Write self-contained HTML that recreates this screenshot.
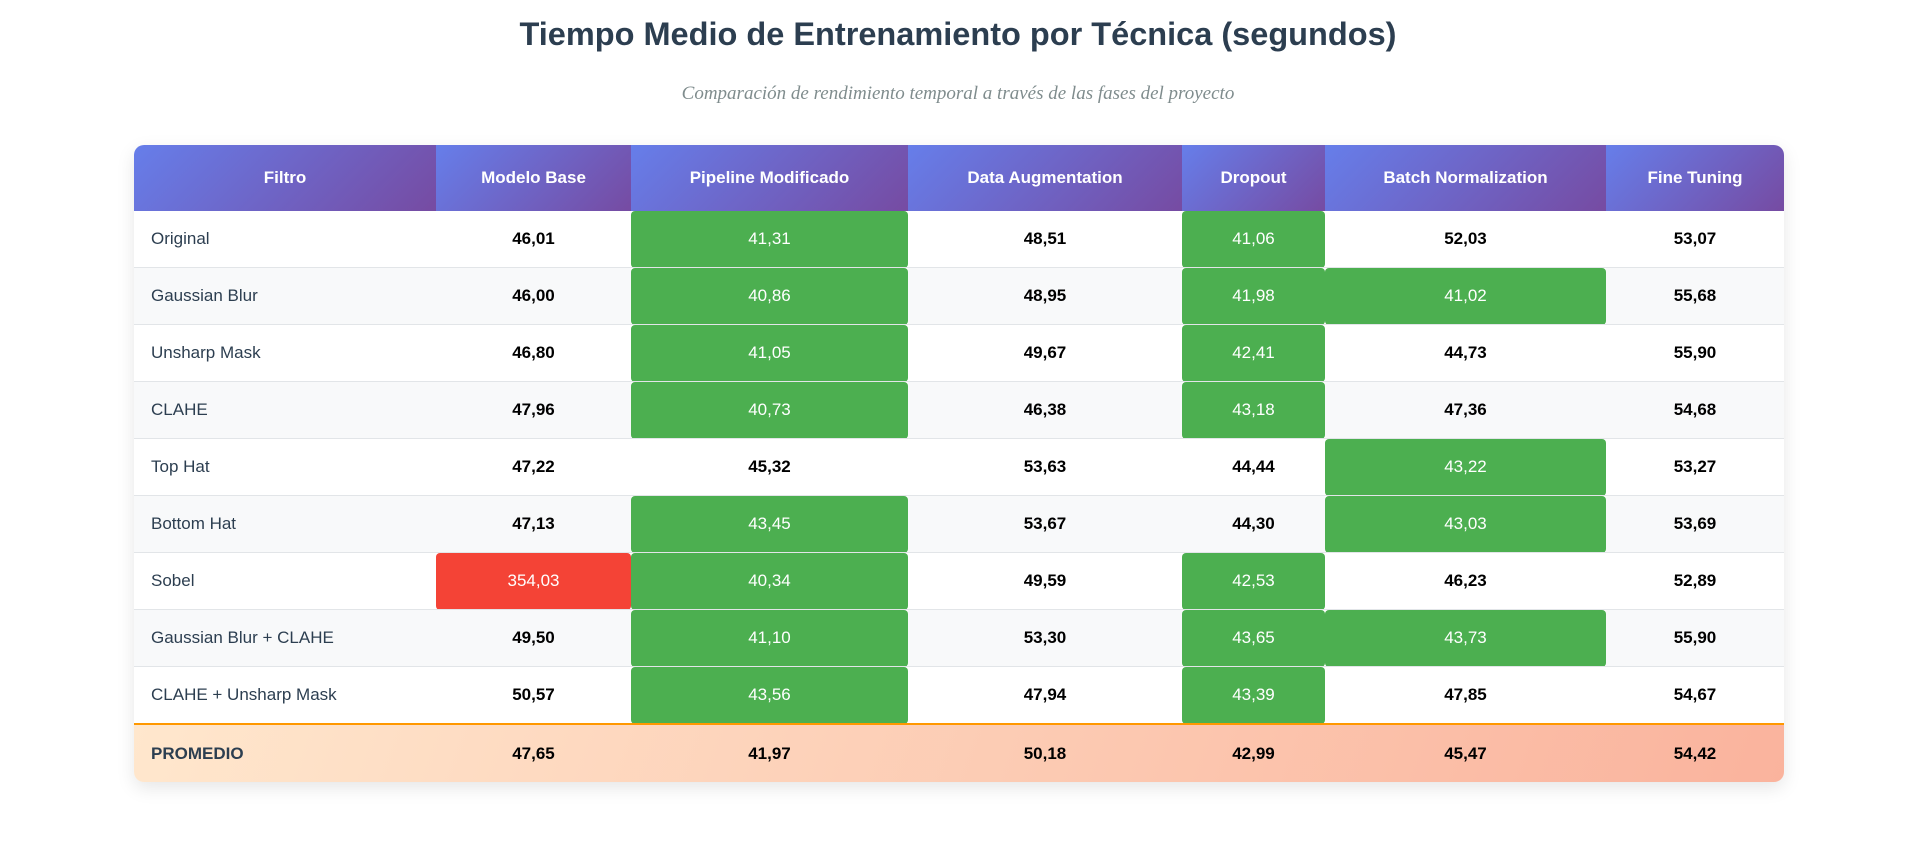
<!DOCTYPE html>
<html><head><meta charset="utf-8">
<style>
html,body{margin:0;padding:0;background:#fff;width:1916px;height:865px;overflow:hidden;font-family:"Liberation Sans",sans-serif;}
h1{position:absolute;left:0;width:1916px;top:16px;margin:0;text-align:center;font-size:32.5px;font-weight:bold;color:#2c3e50;}
.sub{position:absolute;left:0;width:1916px;top:83px;text-align:center;font-family:"Liberation Serif",serif;font-style:italic;font-size:19px;color:#7f8c8d;}
.wrap{position:absolute;left:134px;top:145px;width:1650px;border-radius:10px;box-shadow:0 6px 18px rgba(0,0,0,0.10);overflow:hidden;background:#fff;}
table{border-collapse:collapse;table-layout:fixed;width:1650px;}
th{height:66px;background:linear-gradient(135deg,#667eea,#764ba2);color:#fff;font-weight:bold;font-size:17px;padding:0;text-align:center;}
td{height:56px;padding:0;text-align:center;font-size:17px;font-weight:bold;color:#000;border-bottom:1px solid #e2e5e8;}
td.name{text-align:left;padding-left:17px;font-weight:normal;color:#2c3e50;}
tr.alt td{background:#f8f9fa;}
td.g{background:#4caf50 !important;color:#fff;border-radius:4px;font-weight:normal;}
td.r{background:#f44336 !important;color:#fff;border-radius:4px;font-weight:normal;}
tr.avg td{background:transparent;border-top:2px solid #ff9800;border-bottom:none;height:57px;}
tr.avg td.name{font-weight:bold;}
tr.avg{background:linear-gradient(110deg,#ffe7cd,#fab39d);}
</style></head><body>
<h1>Tiempo Medio de Entrenamiento por Técnica (segundos)</h1>
<div class="sub">Comparación de rendimiento temporal a través de las fases del proyecto</div>
<div class="wrap">
<table id="t">
<colgroup><col style="width:302px"><col style="width:195px"><col style="width:277px"><col style="width:274px"><col style="width:143px"><col style="width:281px"><col style="width:178px"></colgroup>
<thead><tr id="hr"></tr></thead><tbody id="tb"></tbody></table></div>
<script>
const columns=["Filtro","Modelo Base","Pipeline Modificado","Data Augmentation","Dropout","Batch Normalization","Fine Tuning"];
const filters=["Original","Gaussian Blur","Unsharp Mask","CLAHE","Top Hat","Bottom Hat","Sobel","Gaussian Blur + CLAHE","CLAHE + Unsharp Mask"];
const modeloBase=[46.01,46.00,46.80,47.96,47.22,47.13,354.03,49.50,50.57];
const pipeline=[41.31,40.86,41.05,40.73,45.32,43.45,40.34,41.10,43.56];
const dataAug=[48.51,48.95,49.67,46.38,53.63,53.67,49.59,53.30,47.94];
const dropout=[41.06,41.98,42.41,43.18,44.44,44.30,42.53,43.65,43.39];
const batchNorm=[52.03,41.02,44.73,47.36,43.22,43.03,46.23,43.73,47.85];
const fineTuning=[53.07,55.68,55.90,54.68,53.27,53.69,52.89,55.90,54.67];
const averages=[47.65,41.97,50.18,42.99,45.47,54.42];
const series=[modeloBase,pipeline,dataAug,dropout,batchNorm,fineTuning];
const fmt=v=>v.toFixed(2).replace('.',',');
const hr=document.getElementById('hr');
columns.forEach(c=>{const th=document.createElement('th');th.textContent=c;


hr.appendChild(th);});
const tb=document.getElementById('tb');
filters.forEach((f,i)=>{const tr=document.createElement('tr');if(i%2)tr.className='alt';


const n=document.createElement('td');n.className='name';n.textContent=f;


tr.appendChild(n);
series.forEach(s=>{const td=document.createElement('td');const v=s[i];td.textContent=fmt(v);
if(v>100)td.className='r';else if(v<44)td.className='g';


tr.appendChild(td);});
tb.appendChild(tr);});
const ar=document.createElement('tr');ar.className='avg';


const an=document.createElement('td');an.className='name';an.textContent='PROMEDIO';


ar.appendChild(an);
averages.forEach(v=>{const td=document.createElement('td');td.textContent=fmt(v);


ar.appendChild(td);});
tb.appendChild(ar);
</script>
</body></html>
